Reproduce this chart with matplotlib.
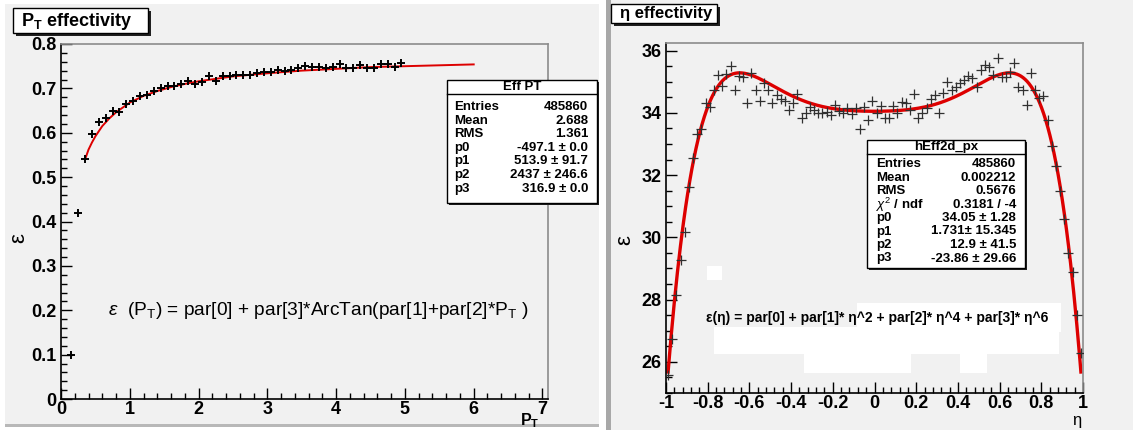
import matplotlib
matplotlib.use('Agg')
import numpy as np
import matplotlib.pyplot as plt
from matplotlib.patches import Rectangle
from matplotlib.ticker import MultipleLocator

plt.rcParams['font.family'] = ['Liberation Sans', 'DejaVu Sans']
plt.rcParams['mathtext.fontset'] = 'custom'
plt.rcParams['mathtext.rm'] = 'Liberation Sans'
plt.rcParams['mathtext.bf'] = 'Liberation Sans:bold'
plt.rcParams['mathtext.it'] = 'Liberation Sans:italic'

W, H = 1133, 430

# ---------------- P_T efficiency (left) ----------------
pt_x = [0.15, 0.25, 0.35, 0.45, 0.55, 0.65, 0.75, 0.85, 0.95, 1.05,
        1.15, 1.25, 1.35, 1.45, 1.55, 1.65, 1.75, 1.85, 1.95, 2.05,
        2.15, 2.25, 2.35, 2.45, 2.55, 2.65, 2.75, 2.85, 2.95, 3.05,
        3.15, 3.25, 3.35, 3.45, 3.55, 3.65, 3.75, 3.85, 3.95, 4.05,
        4.15, 4.25, 4.35, 4.45, 4.55, 4.65, 4.75, 4.85, 4.95]
pt_eff = [0.100, 0.420, 0.540, 0.598, 0.625, 0.634, 0.648, 0.646, 0.665, 0.671,
          0.682, 0.684, 0.694, 0.700, 0.706, 0.705, 0.709, 0.716, 0.710, 0.714,
          0.729, 0.716, 0.729, 0.729, 0.731, 0.731, 0.730, 0.735, 0.736, 0.737,
          0.742, 0.739, 0.742, 0.745, 0.751, 0.749, 0.749, 0.745, 0.749, 0.754,
          0.747, 0.745, 0.752, 0.747, 0.745, 0.754, 0.754, 0.749, 0.757]
# fit curve
pt_fit_x = [0.35, 0.40, 0.45, 0.50, 0.60, 0.70, 0.80, 1.0, 1.2, 1.4, 1.6, 1.8,
            2.0, 2.5, 3.0, 3.5, 4.0, 4.5, 5.0, 5.5, 6.0]
pt_fit_y = [0.540, 0.562, 0.578, 0.592, 0.615, 0.632, 0.646, 0.668, 0.683, 0.694,
            0.703, 0.710, 0.716, 0.727, 0.734, 0.740, 0.744, 0.748, 0.750, 0.752, 0.754]
pt_stats = [('Entries', '485860'), ('Mean', '2.688'), ('RMS', '1.361'),
            ('p0', '-497.1 \u00b1 0.0'), ('p1', '513.9 \u00b1 91.7'),
            ('p2', '2437 \u00b1 246.6'), ('p3', '316.9 \u00b1 0.0')]

# ---------------- eta efficiency (right) ----------------
eta_x = [-0.99, -0.97, -0.95, -0.93, -0.91, -0.89, -0.87, -0.85, -0.83, -0.81,
         -0.79, -0.77, -0.75, -0.73, -0.71, -0.69, -0.67, -0.65, -0.63, -0.61,
         -0.59, -0.57, -0.55, -0.53, -0.51, -0.49, -0.47, -0.45, -0.43, -0.41,
         -0.39, -0.37, -0.35, -0.33, -0.31, -0.29, -0.27, -0.25, -0.23, -0.21,
         -0.19, -0.17, -0.15, -0.13, -0.11, -0.09, -0.07, -0.05, -0.03, -0.01,
         0.01, 0.03, 0.05, 0.07, 0.09, 0.11, 0.13, 0.15, 0.17, 0.19,
         0.21, 0.23, 0.25, 0.27, 0.29, 0.31, 0.33, 0.35, 0.37, 0.39,
         0.41, 0.43, 0.45, 0.47, 0.49, 0.51, 0.53, 0.55, 0.57, 0.59,
         0.61, 0.63, 0.65, 0.67, 0.69, 0.71, 0.73, 0.75, 0.77, 0.79,
         0.81, 0.83, 0.85, 0.87, 0.89, 0.91, 0.93, 0.95, 0.97, 0.99]
eta_eff = [25.57, 26.75, 28.14, 29.27, 30.18, 31.62, 32.54, 33.32, 33.47, 34.33,
           34.20, 34.73, 35.22, 34.86, 35.24, 35.50, 34.75, 35.18, 35.14, 34.33,
           35.27, 34.75, 34.38, 34.97, 34.73, 34.33, 34.57, 34.43, 34.39, 34.09,
           34.33, 34.60, 33.82, 33.98, 34.20, 34.09, 33.98, 34.00, 34.02, 33.93,
           34.25, 34.05, 34.00, 34.14, 33.95, 34.14, 33.47, 34.18, 33.77, 34.38,
           34.00, 34.22, 33.82, 33.82, 34.22, 33.98, 34.36, 34.31, 34.10, 34.60,
           33.82, 34.00, 34.14, 34.45, 34.57, 34.00, 34.63, 35.00, 34.73, 34.84,
           34.95, 35.05, 35.18, 35.11, 34.84, 35.38, 35.54, 35.48, 35.22, 35.75,
           35.16, 35.16, 35.32, 35.61, 34.84, 34.75, 34.25, 35.27, 34.75, 34.47,
           34.54, 33.77, 32.93, 32.30, 31.50, 30.60, 29.50, 28.90, 27.50, 26.30]
eta_par = [34.05, 1.731, 12.9, -23.86]
eta_stats = [('Entries', '485860'), ('Mean', '0.002212'), ('RMS', '0.5676'),
             (r'$\chi^2$ / ndf', '0.3181 / -4'), ('p0', '34.05 \u00b1 1.28'),
             ('p1', '1.731\u00b1 15.345'), ('p2', '12.9 \u00b1 41.5'),
             ('p3', '-23.86 \u00b1 29.66')]

fig = plt.figure(figsize=(W / 100, H / 100), dpi=100, facecolor='white')


def fx(x):
    return x / W


def fy(y):
    return 1 - y / H


def rect(x0, y0, x1, y1, **kw):
    r = Rectangle((fx(x0), fy(y1)), (x1 - x0) / W, (y1 - y0) / H,
                  transform=fig.transFigure, **kw)
    fig.patches.append(r)
    return r


# pad backgrounds
rect(5, 4, 599, 425, facecolor='#f1f1f1', edgecolor='none', zorder=-3)
rect(5, 424, 599, 427, facecolor='#b8b8b8', edgecolor='none', zorder=-3)
rect(611, 0, 1133, 430, facecolor='#f1f1f1', edgecolor='none', zorder=-3)
rect(606, 0, 611, 430, facecolor='#a8a8a8', edgecolor='none', zorder=-3)
# white blotches in the right pad
for bx0, by0, bx1, by1 in [(707, 266, 722, 280), (857, 303, 1061, 332),
                           (714, 327, 1059, 354), (804, 353, 911, 373),
                           (960, 349, 987, 373)]:
    rect(bx0, by0, bx1, by1, facecolor='white', edgecolor='none', zorder=-2)


def style_axes(ax):
    ax.set_facecolor('#f1f1f1')
    for s in ['left', 'bottom']:
        ax.spines[s].set_color('black')
        ax.spines[s].set_linewidth(1.2)
    for s in ['top', 'right']:
        ax.spines[s].set_color('#8c8c8c')
        ax.spines[s].set_linewidth(1.2)
    ax.tick_params(which='both', direction='in', top=False, right=False,
                   width=1.0, colors='black')
    ax.tick_params(which='major', length=8, labelsize=13, pad=3)
    ax.tick_params(which='minor', length=4)
    ax.tick_params(axis='x', which='major', pad=1.5)
    for lab in ax.get_xticklabels() + ax.get_yticklabels():
        lab.set_fontweight('bold')


# ---- left axes
ax1 = fig.add_axes([fx(61), fy(399), (548 - 61) / W, (399 - 44) / H])
ax1.set_xlim(0, 7.08)
ax1.set_ylim(0, 0.8)
ax1.xaxis.set_minor_locator(MultipleLocator(0.2))
ax1.yaxis.set_minor_locator(MultipleLocator(0.02))
ax1.set_xticks([0, 1, 2, 3, 4, 5, 6, 7])
ax1.set_xticklabels(['0', '1', '2', '3', '4', '5', '6', '7'])
ax1.set_yticks([0, 0.1, 0.2, 0.3, 0.4, 0.5, 0.6, 0.7, 0.8])
ax1.set_yticklabels(['0', '0.1', '0.2', '0.3', '0.4', '0.5', '0.6', '0.7', '0.8'])
style_axes(ax1)
ax1.patch.set_alpha(0)
ax1.plot(pt_fit_x, pt_fit_y, color='#dd0000', lw=1.4, zorder=2)
ax1.plot(pt_x, pt_eff, ls='none', marker='+', ms=6, mew=1.4, color='black', zorder=3)
ax1.text(0.68, 0.2, r'$\varepsilon$  (P$_{\rm T}$) = par[0] + par[3]*ArcTan(par[1]+par[2]*P$_{\rm T}$ )',
         fontsize=13.8, ha='left', va='center')

# ---- right axes
ax2 = fig.add_axes([fx(666), fy(393), (1083 - 666) / W, (393 - 42.5) / H])
ax2.set_xlim(-1, 1)
ax2.set_ylim(25.0, 36.26)
ax2.xaxis.set_minor_locator(MultipleLocator(0.04))
ax2.yaxis.set_minor_locator(MultipleLocator(0.5))
ax2.set_xticks([-1, -0.8, -0.6, -0.4, -0.2, 0, 0.2, 0.4, 0.6, 0.8, 1])
ax2.set_xticklabels(['-1', '-0.8', '-0.6', '-0.4', '-0.2', '0', '0.2', '0.4', '0.6', '0.8', '1'])
ax2.set_yticks([26, 28, 30, 32, 34, 36])
ax2.set_yticklabels(['26', '28', '30', '32', '34', '36'])
style_axes(ax2)
ax2.patch.set_alpha(0)
e = np.linspace(-0.99, 0.99, 400)
fit = eta_par[0] + eta_par[1] * e**2 + eta_par[2] * e**4 + eta_par[3] * e**6
ax2.plot(e, fit, color='#dd0000', lw=2.4, zorder=2)
ax2.plot(eta_x, eta_eff, ls='none', marker='+', ms=7, mew=0.9, color='#303030', zorder=3)

# axis titles
fig.text(fx(19), fy(238), '\u03b5', fontsize=16, rotation=90, ha='center', va='center')
fig.text(fx(530), fy(425), r'$\mathbf{P}_{\mathbf{T}}$', fontsize=11.5, ha='center', va='baseline')
fig.text(fx(625), fy(240), '\u03b5', fontsize=16, rotation=90, ha='center', va='center')
fig.text(fx(1077), fy(421), '\u03b7', fontsize=12, ha='center', va='center')

# right formula
fig.text(fx(706), fy(318), 'ε(η) = par[0] + par[1]* η^2 + par[2]* η^4 + par[3]* η^6',
         fontsize=10, fontweight='bold', ha='left', va='center', zorder=5)

# title boxes
rect(16, 11, 151, 36, facecolor='#202020', edgecolor='none', zorder=4)
rect(13, 8, 148, 33, facecolor='white', edgecolor='black', lw=1, zorder=4)
fig.text(fx(21), fy(21), r'$\mathbf{P}_{\mathbf{T}}$ effectivity', fontsize=13,
         fontweight='bold', ha='left', va='center', zorder=6)
rect(614, 7, 720, 26, facecolor='#202020', edgecolor='none', zorder=4)
rect(611, 4, 717, 23, facecolor='white', edgecolor='black', lw=1, zorder=4)
fig.text(fx(620), fy(13.5), '\u03b7 effectivity', fontsize=12,
         fontweight='bold', ha='left', va='center', zorder=6)


def stats_box(x0, y0, x1, y1, head_y, header, rows, lab_x, val_x, row0, dy):
    rect(x0 + 2, y0 + 2, x1 + 2, y1 + 2, facecolor='#202020', edgecolor='none', zorder=7)
    rect(x0, y0, x1, y1, facecolor='white', edgecolor='black', lw=1, zorder=7)
    fig.add_artist(plt.Line2D([fx(x0), fx(x1)], [fy(head_y), fy(head_y)],
                              transform=fig.transFigure, color='black', lw=1, zorder=8))
    fig.text(fx((x0 + x1) / 2), fy((y0 + head_y) / 2), header, fontsize=9.5,
             fontweight='bold', ha='center', va='center', zorder=9)
    for i, (lab, val) in enumerate(rows):
        y = row0 + i * dy
        fig.text(fx(lab_x), fy(y), lab, fontsize=9.5, fontweight='bold',
                 ha='left', va='center', zorder=9)
        fig.text(fx(val_x), fy(y), val, fontsize=9.5, fontweight='bold',
                 ha='right', va='center', zorder=9)


stats_box(447, 80, 597, 203, 94, 'Eff PT', pt_stats, 454, 588, 107, 13.6)
stats_box(867, 140, 1025, 268, 153.5, 'hEff2d_px', eta_stats, 876, 1016, 164, 13.5)

fig.savefig('out.png', dpi=100, facecolor='white')
